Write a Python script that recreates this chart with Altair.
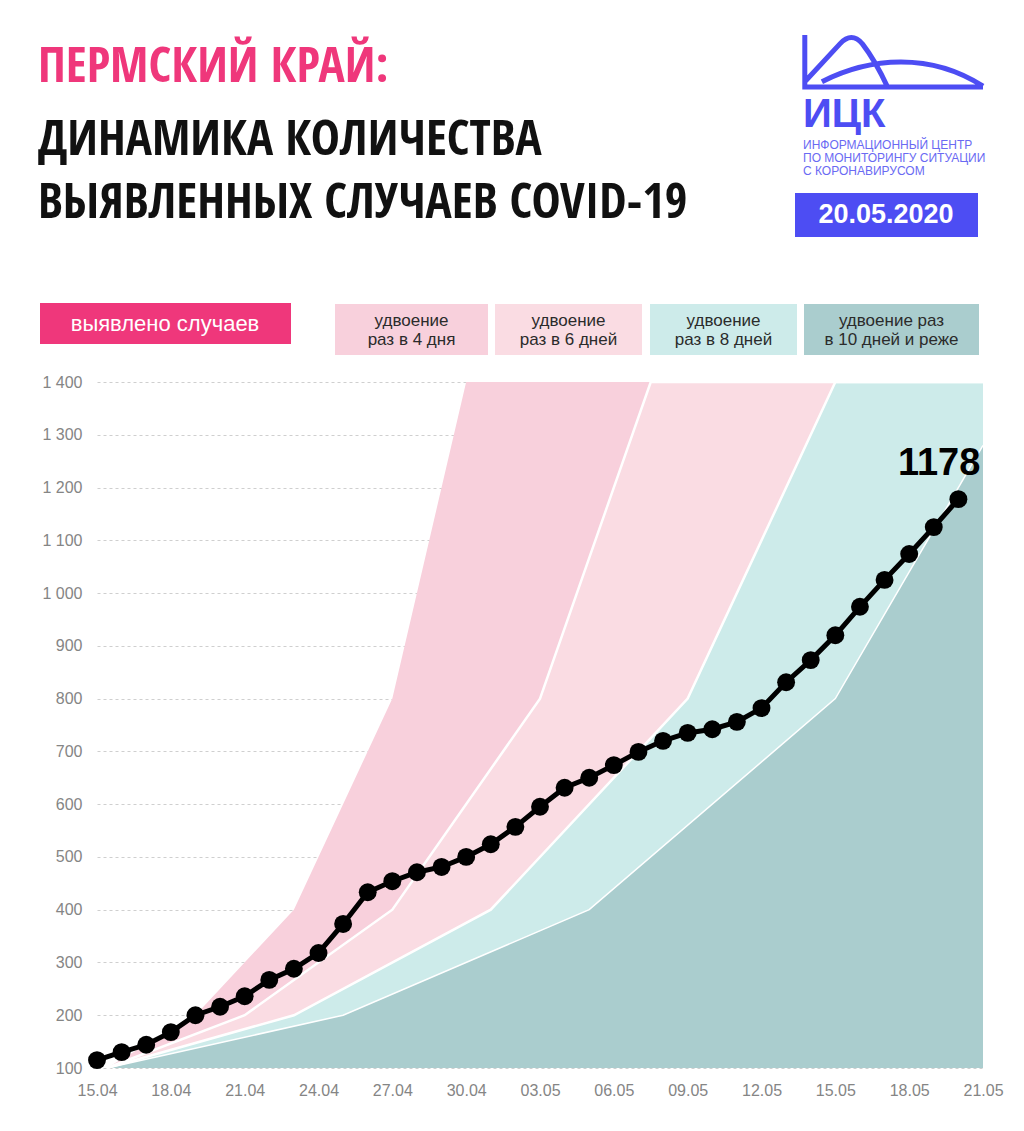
import altair as alt
import pandas as pd

# ---------------- data ----------------
DAYS = list(range(36))
CASES = [115, 130, 144, 168, 200, 216, 236, 267, 288, 318, 373, 433, 454, 471, 481,
         500, 524, 557, 595, 631, 650, 674, 699, 720, 735, 742, 756, 782, 831, 873,
         920, 974, 1025, 1074, 1125, 1178]

TICK_DAYS = list(range(0, 37, 3))
TICK_LABELS = ['15.04', '18.04', '21.04', '24.04', '27.04', '30.04', '03.05',
               '06.05', '09.05', '12.05', '15.05', '18.05', '21.05']
Y_TICKS = list(range(100, 1401, 100))

# doubling bands (breakpoints)
BAND4_DAYS = [0.4, 4, 8, 12, 15, 36]
BAND4_VALS = [100, 200, 400, 800, 1400, 1400]
BAND6_DAYS = [0.4, 6, 12, 18, 22.5, 36]
BAND6_VALS = [100, 200, 400, 800, 1400, 1400]
BAND8_DAYS = [0.4, 8, 16, 24, 30, 36]
BAND8_VALS = [100, 200, 400, 800, 1400, 1400]
BAND10_DAYS = [0.4, 10, 20, 30, 36]
BAND10_VALS = [100, 200, 400, 800, 1280]

TITLE_LINES = ['ПЕРМСКИЙ КРАЙ:', 'ДИНАМИКА КОЛИЧЕСТВА', 'ВЫЯВЛЕННЫХ СЛУЧАЕВ COVID-19']
LEGEND_MAIN = 'выявлено случаев'
LEGEND_BANDS = ['удвоение\nраз в 4 дня', 'удвоение\nраз в 6 дней',
                'удвоение\nраз в 8 дней', 'удвоение раз\nв 10 дней и реже']
LOGO_TEXT = 'ИЦК'
LOGO_SUB = ['ИНФОРМАЦИОННЫЙ ЦЕНТР', 'ПО МОНИТОРИНГУ СИТУАЦИИ', 'С КОРОНАВИРУСОМ']
DATE_TEXT = '20.05.2020'

# ---------------- styles ----------------
C4 = '#F8D0DC'
C6 = '#FADCE3'
C8 = '#CDEBEA'
C10 = '#AACDCE'
PINK = '#EF377B'
BLUE = '#4D4DF3'
FONT = 'Liberation Sans'
TITLE_FONT = "'Open Sans Condensed', 'Roboto Condensed', 'Liberation Sans'"

W, H = 886, 686

df_cases = pd.DataFrame({'day': DAYS, 'cases': CASES})
last = df_cases.tail(1)

x_scale = alt.Scale(domain=[0, 36], nice=False, zero=False)
y_scale = alt.Scale(domain=[100, 1400], nice=False, zero=False)

label_arr = '[' + ','.join("'%s'" % s for s in TICK_LABELS) + ']'
x_axis = alt.Axis(values=TICK_DAYS, labelExpr=label_arr + '[round(datum.value/3)]',
                  title=None, domain=False, ticks=False, grid=False,
                  labelFontSize=16, labelColor='#858585', labelFont=FONT,
                  labelPadding=14, labelFlush=False)
y_axis = alt.Axis(values=Y_TICKS, labelExpr="replace(format(datum.value, ','), ',', ' ')",
                  title=None, domain=False, ticks=False, grid=True,
                  gridDash=[3, 3], gridColor='#cfcfcf', gridWidth=1,
                  labelFontSize=16, labelColor='#858585', labelFont=FONT,
                  labelPadding=15)

X = lambda f: alt.X(f, scale=x_scale, axis=x_axis)
Y = lambda f: alt.Y(f, scale=y_scale, axis=y_axis)


def band_area(days, vals, color):
    d = pd.DataFrame({'day': days, 'v': vals})
    return alt.Chart(d).mark_area(color=color, opacity=1, interpolate='linear').encode(
        x=X('day:Q'), y=Y('v:Q'), y2=alt.datum(100))


def band_line(days, vals, width):
    d = pd.DataFrame({'day': days, 'v': vals})
    return alt.Chart(d).mark_line(color='white', strokeWidth=width).encode(
        x=X('day:Q'), y=Y('v:Q'))


layers = [
    band_area(BAND4_DAYS, BAND4_VALS, C4),
    band_area(BAND6_DAYS, BAND6_VALS, C6),
    band_area(BAND8_DAYS, BAND8_VALS, C8),
    band_area(BAND10_DAYS, BAND10_VALS, C10),
    band_line(BAND6_DAYS, BAND6_VALS, 2.5),
    band_line(BAND8_DAYS, BAND8_VALS, 2.5),
    band_line(BAND10_DAYS, BAND10_VALS, 1.5),
]

line = alt.Chart(df_cases).mark_line(color='black', strokeWidth=5).encode(
    x=X('day:Q'), y=Y('cases:Q'))
pts = alt.Chart(df_cases).mark_circle(color='black', size=320, opacity=1).encode(
    x=X('day:Q'), y=Y('cases:Q'))
lbl = alt.Chart(last).mark_text(align='right', baseline='alphabetic', dx=22, dy=-24,
                                fontSize=38, fontWeight='bold', font=FONT,
                                color='black').encode(
    x=X('day:Q'), y=Y('cases:Q'), text=alt.Text('cases:Q', format='d'))
layers += [line, pts, lbl]

one = pd.DataFrame({'a': [0]})


def txt(text, x, y, size, color, weight='normal', align='left', baseline='alphabetic',
        font=FONT, line_height=None):
    kw = dict(text=text, align=align, baseline=baseline, fontSize=size, color=color,
              fontWeight=weight, font=font)
    if line_height:
        kw['lineHeight'] = line_height
        kw['lineBreak'] = '\n'
    return alt.Chart(one).mark_text(**kw).encode(x=alt.value(x), y=alt.value(y))


def box(x1, x2, y1, y2, color):
    return alt.Chart(one).mark_rect(color=color).encode(
        x=alt.value(x1), x2=alt.value(x2), y=alt.value(y1), y2=alt.value(y2))


# title
layers += [
    txt(TITLE_LINES[0], -59, -300, 49, PINK, 'bold', font=TITLE_FONT),
    txt(TITLE_LINES[1], -59, -227, 49, '#111111', 'bold', font=TITLE_FONT),
    txt(TITLE_LINES[2], -59, -164, 49, '#111111', 'bold', font=TITLE_FONT),
]

# legend
layers += [
    box(-57, 194, -79, -38, PINK),
    txt(LEGEND_MAIN, 68, -58, 22, 'white', align='center', baseline='middle'),
]
band_boxes = [(238, 391, C4), (398, 545, C6), (553, 700, C8), (707, 882, C10)]
for (bx1, bx2, col), label in zip(band_boxes, LEGEND_BANDS):
    layers += [
        box(bx1, bx2, -78, -27, col),
        txt(label, (bx1 + bx2) / 2, -61, 17, '#2b2b2b', align='center',
            baseline='middle', line_height=19),
    ]

# logo
LOGO_PATH = ('M -0.98 -0.29 L -0.98 0.29 L 1.0 0.29 '
             'M -0.98 0.23 L -0.59 -0.19 Q -0.46 -0.33 -0.34 -0.19 Q -0.2 -0.01 -0.06 0.29 '
             'M -0.79 0.23 C -0.26 -0.04 0.41 -0.1 1.0 0.28')
layers += [
    alt.Chart(one).mark_point(shape=LOGO_PATH, size=32400, filled=False, stroke=BLUE,
                              strokeWidth=5, opacity=1).encode(
        x=alt.value(796), y=alt.value(-321)),
    txt(LOGO_TEXT, 706, -255, 40, BLUE, 'bold'),
    txt(LOGO_SUB[0], 706, -233, 12, '#6A6AF3'),
    txt(LOGO_SUB[1], 706, -220, 12, '#6A6AF3'),
    txt(LOGO_SUB[2], 706, -207, 12, '#6A6AF3'),
    box(698, 881, -189, -145, BLUE),
    txt(DATE_TEXT, 789, -167, 27, 'white', 'bold', align='center', baseline='middle'),
]

chart = alt.layer(*layers).properties(
    width=W, height=H,
    padding={'left': 89, 'top': 374, 'right': 33, 'bottom': 55},
    autosize=alt.AutoSizeParams(type='none'),
    background='white',
).configure_view(stroke=None)

chart.save('out.html', embed_options={'renderer': 'svg', 'actions': False})
